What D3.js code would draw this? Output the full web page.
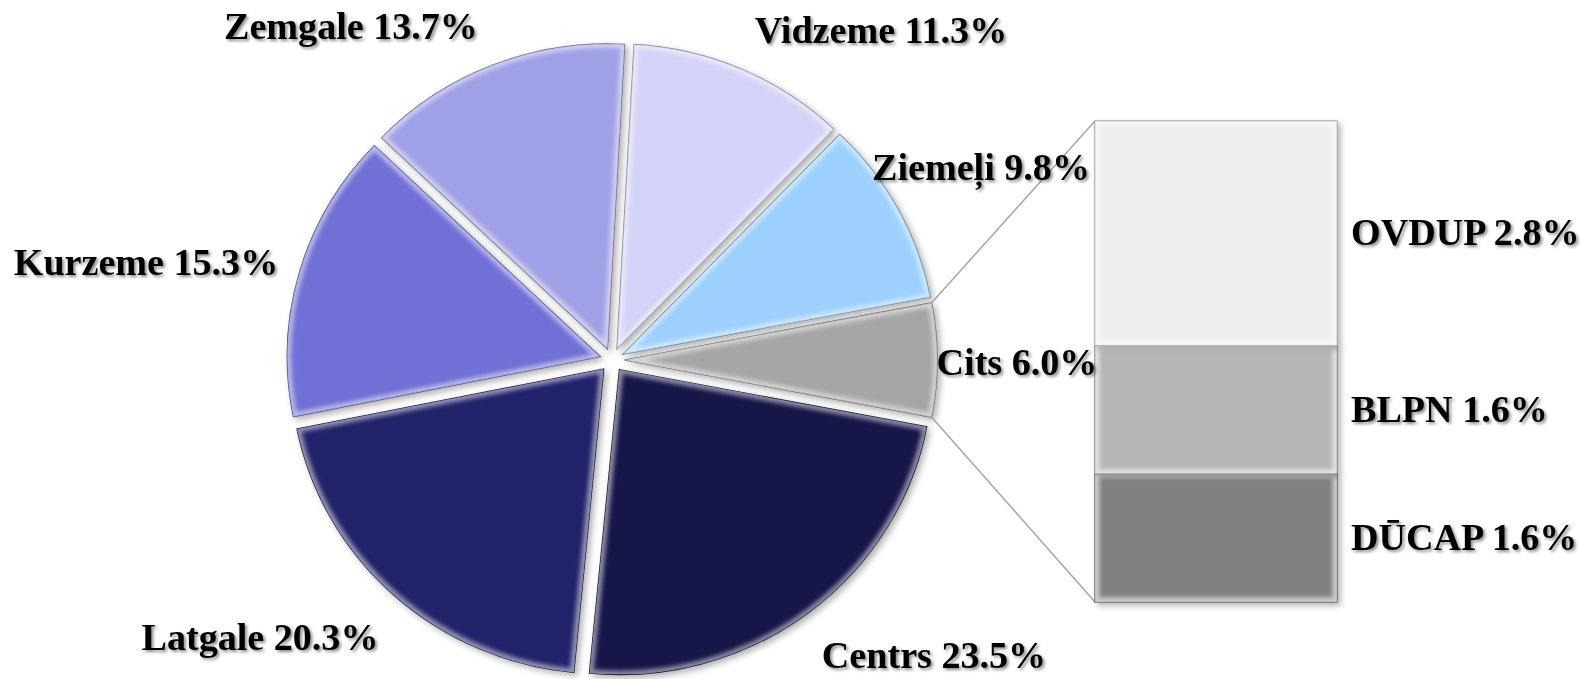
<html>
<head>
<meta charset="utf-8">
<script src="https://d3js.org/d3.v7.min.js"></script>
<style>
    body { margin: 0; background: #ffffff; }
    text { font-family: "Liberation Serif", "Times New Roman", serif; font-weight: bold; }
</style>
</head>
<body>
<svg id="chart" width="1581" height="679"></svg>
<script>
    // pie slices, clockwise from the top
    const regions = ["Vidzeme", "Ziemeļi", "Cits", "Centrs", "Latgale", "Kurzeme", "Zemgale"]
    const shares = [11.3, 9.8, 6.0, 23.5, 20.3, 15.3, 13.7]
    const sliceColors = ["#d3d3f7", "#9dd0fc", "#a6a6a6", "#17174a", "#22226a", "#6f6fd6", "#a0a0e6"]

    // breakdown of "Cits", bottom to top
    const otherNames = ["DŪCAP", "BLPN", "OVDUP"]
    const otherShares = [1.6, 1.6, 2.8]
    const otherColors = ["#818181", "#b5b5b5", "#eeeeee"]

    // label anchors (centre x, baseline y)
    const pieLabelPos = {
        "Vidzeme": [881, 43], "Ziemeļi": [981, 180], "Cits": [1017, 375],
        "Centrs": [934, 668], "Latgale": [260, 650], "Kurzeme": [146, 275], "Zemgale": [351, 39]
    }

    const svg = d3.select("#chart")
    const cx = 612, cy = 360, R = 305, sx = 1.026, explode = 12
    const fontSize = 37, textStretch = 1.03

    const defs = svg.append("defs")
    const shadow = defs.append("filter").attr("id", "shadow")
        .attr("x", "-10%").attr("y", "-10%").attr("width", "130%").attr("height", "130%")
    shadow.append("feDropShadow").attr("dx", 3).attr("dy", 3).attr("stdDeviation", 3)
        .attr("flood-color", "#000").attr("flood-opacity", 0.3)
    const tshadow = defs.append("filter").attr("id", "tshadow")
    tshadow.append("feDropShadow").attr("dx", 2).attr("dy", 2).attr("stdDeviation", 1.5)
        .attr("flood-color", "#000").attr("flood-opacity", 0.45)
    defs.append("filter").attr("id", "soft").append("feGaussianBlur").attr("stdDeviation", 2)

    const total = d3.sum(shares)
    const before = shares[0] + shares[1] + shares[2] / 2
    const start = Math.PI / 2 - 2 * Math.PI * before / total

    const pie = d3.pie().sort(null).startAngle(start).endAngle(start + 2 * Math.PI)
    const arcs = pie(shares)
    const arc = d3.arc().innerRadius(0).outerRadius(R)

    const pieG = svg.append("g").attr("transform", `translate(${cx},${cy}) scale(${sx},1)`)

    const slices = pieG.selectAll("g.slice").data(arcs).join("g")
        .attr("class", "slice")
        .attr("transform", d => {
            const m = (d.startAngle + d.endAngle) / 2
            return `translate(${explode * Math.sin(m)},${-explode * Math.cos(m)})`
        })

    slices.append("clipPath").attr("id", (d, i) => "clip" + i)
        .append("path").attr("d", arc)

    slices.append("path")
        .attr("d", arc)
        .attr("fill", (d, i) => sliceColors[i])
        .attr("stroke", (d, i) => d3.color(sliceColors[i]).darker(1.2))
        .attr("stroke-width", 1.2)
        .attr("filter", "url(#shadow)")

    // bevel highlight
    slices.append("g").attr("clip-path", (d, i) => `url(#clip${i})`)
        .append("path")
        .attr("d", arc)
        .attr("fill", "none")
        .attr("stroke", "#fff")
        .attr("stroke-opacity", 0.5)
        .attr("stroke-width", 8)
        .attr("filter", "url(#soft)")

    // stacked bar for "Cits"
    const barX0 = 1095, barX1 = 1337
    const y = d3.scaleLinear().domain([0, d3.sum(otherShares)]).range([602, 121])
    const stackData = []
    let acc = 0
    otherShares.forEach((v, i) => { stackData.push({name: otherNames[i], v: v, y0: acc, y1: acc + v, c: otherColors[i]}); acc += v })

    // connector lines from the Cits slice to the bar
    const cits = arcs[2]
    const cm = (cits.startAngle + cits.endAngle) / 2
    const ox = explode * Math.sin(cm), oy = -explode * Math.cos(cm)
    const corner = a => [cx + sx * (ox + R * Math.sin(a)), cy + oy - R * Math.cos(a)]
    const pTop = corner(cits.startAngle), pBot = corner(cits.endAngle)
    svg.append("line").attr("x1", pTop[0]).attr("y1", pTop[1]).attr("x2", barX0).attr("y2", y(d3.sum(otherShares)))
        .attr("stroke", "#a6a6a6").attr("stroke-width", 1.5)
    svg.append("line").attr("x1", pBot[0]).attr("y1", pBot[1]).attr("x2", barX0).attr("y2", y(0))
        .attr("stroke", "#a6a6a6").attr("stroke-width", 1.5)

    const bars = svg.append("g").selectAll("g").data(stackData).join("g")
    bars.append("clipPath").attr("id", (d, i) => "bclip" + i)
        .append("rect").attr("x", barX0).attr("y", d => y(d.y1)).attr("width", barX1 - barX0).attr("height", d => y(d.y0) - y(d.y1))
    bars.append("rect")
        .attr("x", barX0).attr("y", d => y(d.y1))
        .attr("width", barX1 - barX0).attr("height", d => y(d.y0) - y(d.y1))
        .attr("fill", d => d.c)
        .attr("stroke", d => d3.color(d.c).darker(1.3))
        .attr("stroke-width", 1.2)
        .attr("filter", "url(#shadow)")
    bars.append("g").attr("clip-path", (d, i) => `url(#bclip${i})`)
        .append("rect")
        .attr("x", barX0).attr("y", d => y(d.y1))
        .attr("width", barX1 - barX0).attr("height", d => y(d.y0) - y(d.y1))
        .attr("fill", "none").attr("stroke", "#fff").attr("stroke-opacity", 0.6)
        .attr("stroke-width", 9).attr("filter", "url(#soft)")

    // labels
    svg.append("g").selectAll("text").data(arcs).join("text")
        .attr("transform", (d, i) => `translate(${pieLabelPos[regions[i]][0]},${pieLabelPos[regions[i]][1]}) scale(${textStretch},1)`)
        .attr("text-anchor", "middle")
        .attr("font-size", fontSize)
        .attr("fill", "#000")
        .attr("filter", "url(#tshadow)")
        .text((d, i) => `${regions[i]} ${shares[i].toFixed(1)}%`)

    svg.append("g").selectAll("text").data(stackData).join("text")
        .attr("transform", d => `translate(1351,${(y(d.y0) + y(d.y1)) / 2 + 12}) scale(${textStretch},1)`)
        .attr("font-size", fontSize)
        .attr("fill", "#000")
        .attr("filter", "url(#tshadow)")
        .text(d => `${d.name} ${d.v.toFixed(1)}%`)
</script>
</body>
</html>
